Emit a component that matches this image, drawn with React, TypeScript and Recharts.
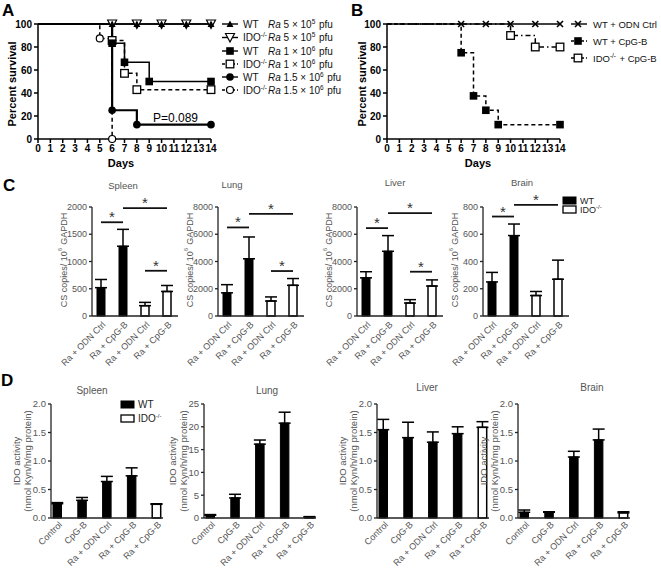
import React from "react";
import {
  LineChart,
  Line,
  XAxis,
  YAxis,
  BarChart,
  Bar,
  Cell,
  ErrorBar,
  ReferenceLine,
} from "recharts";

const FONT = "'Liberation Sans', Arial, Helvetica, sans-serif";
const GREY = "#555";

// ---------- A: survival, Ra dose ----------
const dayTicks = [0, 1, 2, 3, 4, 5, 6, 7, 8, 9, 10, 11, 12, 13, 14];
const survivalTicks = [0, 20, 40, 60, 80, 100];

const aWt5Days = [0, 6, 8, 10, 12, 14];
const aWt5Surv = [100, 100, 100, 100, 100, 100];
const aKo5Days = [0, 6, 8, 10, 12, 14];
const aKo5Surv = [100, 100, 100, 100, 100, 100];
const aWt1Days = [0, 6, 7, 9, 14];
const aWt1Surv = [100, 83.3, 66.7, 50, 50];
const aKo1Days = [0, 6, 7, 8, 14];
const aKo1Surv = [100, 85.7, 57.1, 42.9, 42.9];
const aWt15Days = [0, 6, 8, 14];
const aWt15Surv = [100, 25, 12.5, 12.5];
const aKo15Days = [0, 5, 6];
const aKo15Surv = [100, 87.5, 0];

// ---------- B: survival, CpG-B ----------
const bOdnDays = [0, 6, 8, 10, 12, 14];
const bOdnSurv = [100, 100, 100, 100, 100, 100];
const bWtCpgDays = [0, 6, 7, 8, 9, 14];
const bWtCpgSurv = [100, 75, 37.5, 25, 12.5, 12.5];
const bKoCpgDays = [0, 10, 12, 14];
const bKoCpgSurv = [100, 90, 80, 80];

// ---------- C: bacterial load ----------
const cCats = ["wtOdn", "wtCpg", "koOdn", "koCpg"];
const cLabels = ["Ra + ODN Ctrl", "Ra + CpG-B", "Ra + ODN Ctrl", "Ra + CpG-B"];
const cKnockout = [false, false, true, true];

const cSpleenMean = [520, 1280, 190, 450];
const cSpleenSem = [150, 310, 60, 110];
const cSpleenTicks = [0, 500, 1000, 1500, 2000];
const cSpleenSig: Sig[] = [[0, 1, 1720], [1, 3, 1980], [2, 3, 830]];

const cLungMean = [1700, 4200, 1100, 2250];
const cLungSem = [600, 1600, 300, 500];
const cLungTicks = [0, 2000, 4000, 6000, 8000];
const cLungSig: Sig[] = [[0, 1, 6500], [1, 3, 7500], [2, 3, 3300]];

const cLiverMean = [2800, 4750, 950, 2200];
const cLiverSem = [450, 1150, 250, 450];
const cLiverTicks = [0, 2000, 4000, 6000, 8000];
const cLiverSig: Sig[] = [[0, 1, 6450], [1, 3, 7550], [2, 3, 3250]];

const cBrainMean = [250, 590, 150, 270];
const cBrainSem = [70, 85, 30, 140];
const cBrainTicks = [0, 200, 400, 600, 800];
const cBrainSig: Sig[] = [[0, 1, 730], [1, 3, 815]];

// ---------- D: IDO activity ----------
const dCats = ["ctrl", "cpg", "raOdn", "raCpg", "koRaCpg"];
const dLabels = ["Control", "CpG-B", "Ra + ODN Ctrl", "Ra + CpG-B", "Ra + CpG-B"];
const dKnockout = [false, false, false, false, true];
const dTicks = [0, 0.5, 1, 1.5, 2];
const dLungTicks = [0, 5, 10, 15, 20, 25];

const dSpleenMean = [0.25, 0.31, 0.64, 0.74, 0.24];
const dSpleenSem = [0.02, 0.05, 0.09, 0.14, 0.01];
const dLungMean = [0.6, 4.4, 16.2, 20.8, 0.2];
const dLungSem = [0.15, 0.8, 0.9, 2.4, 0.1];
const dLiverMean = [1.55, 1.41, 1.33, 1.48, 1.59];
const dLiverSem = [0.18, 0.27, 0.18, 0.12, 0.1];
const dBrainMean = [0.1, 0.1, 1.07, 1.37, 0.09];
const dBrainSem = [0.04, 0.01, 0.1, 0.19, 0.02];

type Sig = [number, number, number];
type Shape = "triUp" | "triDown" | "square" | "squareOpen" | "circle" | "circleOpen" | "cross";

type KmSeries = {
  name: string;
  days: number[];
  surv: number[];
  shape: Shape;
  dash?: string;
  width?: number;
};

const toKm = (days: number[], surv: number[]) => days.map((d, i) => ({ day: d, surv: surv[i] }));

function Marker({ shape, x, y }: { shape: Shape; x: number; y: number }) {
  const h = 3.8;
  switch (shape) {
    case "triUp":
      return <polygon points={`${x},${y - 3.5} ${x + 3.5},${y + 3} ${x - 3.5},${y + 3}`} fill="#000" />;
    case "triDown":
      return (
        <polygon
          points={`${x - 4.5},${y - 4} ${x + 4.5},${y - 4} ${x},${y + 4.5}`}
          fill="#fff"
          stroke="#000"
          strokeWidth={1.2}
        />
      );
    case "square":
      return <rect x={x - h} y={y - h} width={h * 2} height={h * 2} fill="#000" />;
    case "squareOpen":
      return (
        <rect x={x - h} y={y - h} width={h * 2} height={h * 2} fill="#fff" stroke="#000" strokeWidth={1.3} />
      );
    case "circle":
      return <circle cx={x} cy={y} r={3.8} fill="#000" />;
    case "circleOpen":
      return <circle cx={x} cy={y} r={3.5} fill="#fff" stroke="#000" strokeWidth={1.2} />;
    case "cross":
    default:
      return (
        <g stroke="#000" strokeWidth={1.6}>
          <line x1={x - 3} y1={y - 3} x2={x + 3} y2={y + 3} />
          <line x1={x - 3} y1={y + 3} x2={x + 3} y2={y - 3} />
        </g>
      );
  }
}

const seriesA: KmSeries[] = [
  { name: "ko5", days: aKo5Days, surv: aKo5Surv, shape: "triDown" },
  { name: "wt5", days: aWt5Days, surv: aWt5Surv, shape: "triUp" },
  { name: "ko15", days: aKo15Days, surv: aKo15Surv, shape: "circleOpen", dash: "4 3" },
  { name: "wt15", days: aWt15Days, surv: aWt15Surv, shape: "circle", width: 2.2 },
  { name: "ko1", days: aKo1Days, surv: aKo1Surv, shape: "squareOpen", dash: "4 3" },
  { name: "wt1", days: aWt1Days, surv: aWt1Surv, shape: "square" },
];

const seriesB: KmSeries[] = [
  { name: "odn", days: bOdnDays, surv: bOdnSurv, shape: "cross" },
  { name: "wtCpg", days: bWtCpgDays, surv: bWtCpgSurv, shape: "square", dash: "4 3" },
  { name: "koCpg", days: bKoCpgDays, surv: bKoCpgSurv, shape: "squareOpen", dash: "5 3 1.5 3" },
];

const axisStroke = { stroke: "#000", strokeWidth: 1.5 };

function KmChart({
  left,
  width,
  plotLeft,
  plotRight,
  series,
}: {
  left: number;
  width: number;
  plotLeft: number;
  plotRight: number;
  series: KmSeries[];
}) {
  const tickStyle = { fontSize: 10, fontWeight: 700, fill: "#000", fontFamily: FONT };
  return (
    <div style={{ position: "absolute", left, top: 0 }}>
      <LineChart width={width} height={172} margin={{ top: 24, right: width - plotRight, bottom: 0, left: 0 }}>
        <XAxis
          type="number"
          dataKey="day"
          domain={[0, 14]}
          ticks={dayTicks}
          interval={0}
          height={33}
          tickSize={4}
          tickMargin={2}
          axisLine={axisStroke}
          tickLine={axisStroke}
          tick={tickStyle}
        />
        <YAxis
          type="number"
          dataKey="surv"
          domain={[0, 100]}
          ticks={survivalTicks}
          interval={0}
          width={plotLeft}
          tickSize={4}
          tickMargin={2}
          axisLine={axisStroke}
          tickLine={axisStroke}
          tick={tickStyle}
        />
        {series.map((s) => (
          <Line
            key={s.name}
            data={toKm(s.days, s.surv)}
            dataKey="surv"
            type="stepAfter"
            stroke="#000"
            strokeWidth={s.width ?? 1.5}
            strokeDasharray={s.dash}
            isAnimationActive={false}
            activeDot={false}
            dot={(p: any) =>
              p.index === 0 ? (
                <g key={`${s.name}-${p.index}`} />
              ) : (
                <g key={`${s.name}-${p.index}`}>
                  <Marker shape={s.shape} x={p.cx} y={p.cy} />
                </g>
              )
            }
          />
        ))}
      </LineChart>
    </div>
  );
}

function RotTick({ x, y, index, labels, fontSize, drop }: any) {
  const ax = x + 3;
  const ay = y + drop;
  return (
    <text
      x={ax}
      y={ay}
      dy="0.35em"
      textAnchor="end"
      transform={`rotate(-45 ${ax} ${ay})`}
      fontSize={fontSize}
      fill={GREY}
      fontFamily={FONT}
    >
      {labels[index]}
    </text>
  );
}

type BarPanelProps = {
  left: number;
  top: number;
  height: number;
  marginTop: number;
  xAxisHeight: number;
  yWidth: number;
  plotWidth: number;
  padL: number;
  padR: number;
  yMax: number;
  yTicks: number[];
  decimals: number;
  cats: string[];
  labels: string[];
  knockout: boolean[];
  means: number[];
  sems: number[];
  sigs?: Sig[];
  barSize: number;
  fontSize: number;
  labelFont: number;
  labelDrop: number;
};

function BarPanel(p: BarPanelProps) {
  const data = p.cats.map((c, i) => ({
    key: c,
    mean: p.means[i],
    err: [0, p.sems[i]],
    ko: p.knockout[i],
  }));
  const width = p.yWidth + p.plotWidth + 8;
  const line = { stroke: "#222", strokeWidth: 1.3 };
  return (
    <div style={{ position: "absolute", left: p.left, top: p.top }}>
      <BarChart
        width={width}
        height={p.height}
        data={data}
        margin={{ top: p.marginTop, right: 8, bottom: 0, left: 0 }}
      >
        <XAxis
          type="category"
          dataKey="key"
          interval={0}
          height={p.xAxisHeight}
          padding={{ left: p.padL, right: p.padR }}
          axisLine={line}
          tickLine={false}
          tickSize={0}
          tick={(t: any) => <RotTick {...t} labels={p.labels} fontSize={p.labelFont} drop={p.labelDrop} />}
        />
        <YAxis
          type="number"
          domain={[0, p.yMax]}
          ticks={p.yTicks}
          interval={0}
          width={p.yWidth}
          tickSize={3}
          tickMargin={2}
          axisLine={line}
          tickLine={line}
          tickFormatter={(v: number) => v.toFixed(p.decimals)}
          tick={{ fontSize: p.fontSize, fill: GREY, fontFamily: FONT }}
        />
        <Bar dataKey="mean" barSize={p.barSize} isAnimationActive={false}>
          {data.map((d) => (
            <Cell key={d.key} fill={d.ko ? "#fff" : "#000"} stroke="#000" strokeWidth={d.ko ? 1.5 : 1} />
          ))}
          <ErrorBar dataKey="err" width={6} strokeWidth={1.5} stroke="#000" direction="y" />
        </Bar>
        {(p.sigs ?? []).map(([a, b, h]) => (
          <ReferenceLine
            key={`${a}-${b}`}
            segment={[
              { x: p.cats[a], y: h },
              { x: p.cats[b], y: h },
            ]}
            stroke="#111"
            strokeWidth={1.8}
            ifOverflow="visible"
            label={{ value: "*", position: "top", fontSize: 15, fill: "#333", offset: 0 }}
          />
        ))}
      </BarChart>
    </div>
  );
}

const C_TOP = 175;
const D_TOP = 380;

function cPanel(axisX: number, yMax: number, ticks: number[], means: number[], sems: number[], sigs: Sig[]) {
  return (
    <BarPanel
      left={axisX - 40}
      top={C_TOP}
      height={190}
      marginTop={32}
      xAxisHeight={49}
      yWidth={40}
      plotWidth={86}
      padL={-2}
      padR={0}
      yMax={yMax}
      yTicks={ticks}
      decimals={0}
      cats={cCats}
      labels={cLabels}
      knockout={cKnockout}
      means={means}
      sems={sems}
      sigs={sigs}
      barSize={8}
      fontSize={9}
      labelFont={9}
      labelDrop={5}
    />
  );
}

function dPanel(axisX: number, yMax: number, ticks: number[], decimals: number, means: number[], sems: number[]) {
  return (
    <BarPanel
      left={axisX - 45}
      top={D_TOP}
      height={190}
      marginTop={24}
      xAxisHeight={52}
      yWidth={45}
      plotWidth={112}
      padL={-6}
      padR={-6}
      yMax={yMax}
      yTicks={ticks}
      decimals={decimals}
      cats={dCats}
      labels={dLabels}
      knockout={dKnockout}
      means={means}
      sems={sems}
      barSize={8.5}
      fontSize={9.5}
      labelFont={9}
      labelDrop={3}
    />
  );
}

function VText({ x, y, size, bold, fill, children }: any) {
  return (
    <text
      x={x}
      y={y}
      transform={`rotate(-90 ${x} ${y})`}
      textAnchor="middle"
      dominantBaseline="central"
      fontSize={size}
      fontWeight={bold ? 700 : 400}
      fill={fill ?? "#000"}
    >
      {children}
    </text>
  );
}

const Sup = ({ children, size = 6.5 }: any) => (
  <>
    <tspan dy={-4} fontSize={size}>
      {children}
    </tspan>
    <tspan dy={4}>{"\u200a"}</tspan>
  </>
);

function LegendA() {
  const rows: { shape: Shape; dash?: string; grp: string; dose: React.ReactNode }[] = [
    { shape: "triUp", grp: "WT", dose: <>5 × 10<Sup>5</Sup> pfu</> },
    { shape: "triDown", grp: "IDO", dose: <>5 × 10<Sup>5</Sup> pfu</> },
    { shape: "square", grp: "WT", dose: <>1 × 10<Sup>6</Sup> pfu</> },
    { shape: "squareOpen", dash: "3 2", grp: "IDO", dose: <>1 × 10<Sup>6</Sup> pfu</> },
    { shape: "circle", grp: "WT", dose: <>1.5 × 10<Sup>6</Sup> pfu</> },
    { shape: "circleOpen", dash: "3 2", grp: "IDO", dose: <>1.5 × 10<Sup>6</Sup> pfu</> },
  ];
  const ys = [24, 37.5, 51, 64, 77, 90];
  return (
    <g fontSize={10} fill="#111">
      {rows.map((r, i) => (
        <g key={i}>
          <line x1={222} x2={238} y1={ys[i]} y2={ys[i]} stroke="#000" strokeWidth={1.4} strokeDasharray={r.dash} />
          <Marker shape={r.shape} x={230} y={ys[i]} />
          <text x={243} y={ys[i] + 3.5}>
            {r.grp === "WT" ? "WT" : <>IDO<Sup>-/-</Sup></>}
          </text>
          <text x={268} y={ys[i] + 3.5}>
            <tspan fontStyle="italic">Ra</tspan> {r.dose}
          </text>
        </g>
      ))}
    </g>
  );
}

function LegendB() {
  const rows: { shape: Shape; dash?: string; label: React.ReactNode }[] = [
    { shape: "cross", label: "WT + ODN Ctrl" },
    { shape: "square", dash: "3 2", label: "WT + CpG-B" },
    { shape: "squareOpen", dash: "3 2", label: <>IDO<Sup>-/-</Sup> + CpG-B</> },
  ];
  const ys = [24, 41, 58];
  return (
    <g fontSize={9.5} fill="#111">
      {rows.map((r, i) => (
        <g key={i}>
          <line x1={571} x2={587} y1={ys[i]} y2={ys[i]} stroke="#000" strokeWidth={1.4} strokeDasharray={r.dash} />
          <Marker shape={r.shape} x={578} y={ys[i]} />
          <text x={593} y={ys[i] + 3.5}>
            {r.label}
          </text>
        </g>
      ))}
    </g>
  );
}

function BarLegend({ x, y, gap, size }: { x: number; y: number; gap: number; size: number }) {
  return (
    <g fontSize={size} fill="#222">
      <rect x={x} y={y} width={13} height={7} fill="#000" stroke="#000" />
      <text x={x + 17} y={y + 7}>
        WT
      </text>
      <rect x={x} y={y + gap} width={13} height={7} fill="#fff" stroke="#000" strokeWidth={1.3} />
      <text x={x + 17} y={y + gap + 7}>
        IDO<Sup size={6}>-/-</Sup>
      </text>
    </g>
  );
}

function Overlay() {
  const cLabel = (
    <>
      CS copies/ 10<Sup size={6}>6</Sup> GAPDH
    </>
  );
  const cAxes = [92, 218, 357, 483];
  const dAxes = [51, 204, 377, 518];
  return (
    <svg
      width={661}
      height={570}
      style={{ position: "absolute", left: 0, top: 0, pointerEvents: "none" }}
      fontFamily={FONT}
    >
      <g fontSize={17} fontWeight={700}>
        <text x={2} y={16}>A</text>
        <text x={351} y={16}>B</text>
        <text x={3} y={191}>C</text>
        <text x={1} y={386}>D</text>
      </g>

      <VText x={12} y={84} size={11} bold>
        Percent survival
      </VText>
      <VText x={362} y={84} size={11} bold>
        Percent survival
      </VText>
      <text x={121} y={167} textAnchor="middle" fontSize={11} fontWeight={700}>
        Days
      </text>
      <text x={478} y={167} textAnchor="middle" fontSize={11} fontWeight={700}>
        Days
      </text>
      <text x={153} y={121.5} fontSize={12}>
        P=0.089
      </text>
      <LegendA />
      <LegendB />

      <g fontSize={9.5} fill={GREY} textAnchor="middle">
        <text x={123} y={189}>Spleen</text>
        <text x={232} y={188}>Lung</text>
        <text x={395} y={186}>Liver</text>
        <text x={522} y={186}>Brain</text>
      </g>
      {cAxes.map((a) => (
        <VText key={a} x={a - 28} y={260} size={9} fill={GREY}>
          {cLabel}
        </VText>
      ))}
      <BarLegend x={563} y={197} gap={9} size={9} />

      <g fontSize={10} fill={GREY} textAnchor="middle">
        <text x={92} y={394}>Spleen</text>
        <text x={267} y={394}>Lung</text>
        <text x={427} y={391}>Liver</text>
        <text x={592} y={391}>Brain</text>
      </g>
      {dAxes.map((a, i) => (
        <g key={a}>
          <VText x={a - (i === 1 ? 32 : 35)} y={461} size={9.5} fill={GREY}>
            IDO activity
          </VText>
          <VText x={a - (i === 1 ? 21 : 24)} y={461} size={9.5} fill={GREY}>
            (nmol Kyn/h/mg protein)
          </VText>
        </g>
      ))}
      <BarLegend x={121} y={401} gap={14} size={10} />
    </svg>
  );
}

export default function App() {
  return (
    <div
      style={{
        position: "absolute",
        left: 0,
        top: 0,
        width: 661,
        height: 570,
        background: "#fff",
        fontFamily: FONT,
        overflow: "hidden",
      }}
    >
      <style>{`.recharts-surface{overflow:visible}.recharts-wrapper{overflow:visible}`}</style>
      <KmChart left={0} width={345} plotLeft={38} plotRight={211} series={seriesA} />
      <KmChart left={345} width={316} plotLeft={42} plotRight={215} series={seriesB} />

      {cPanel(92, 2000, cSpleenTicks, cSpleenMean, cSpleenSem, cSpleenSig)}
      {cPanel(218, 8000, cLungTicks, cLungMean, cLungSem, cLungSig)}
      {cPanel(357, 8000, cLiverTicks, cLiverMean, cLiverSem, cLiverSig)}
      {cPanel(483, 800, cBrainTicks, cBrainMean, cBrainSem, cBrainSig)}

      {dPanel(51, 2, dTicks, 1, dSpleenMean, dSpleenSem)}
      {dPanel(204, 25, dLungTicks, 0, dLungMean, dLungSem)}
      {dPanel(377, 2, dTicks, 1, dLiverMean, dLiverSem)}
      {dPanel(518, 2, dTicks, 1, dBrainMean, dBrainSem)}

      <Overlay />
    </div>
  );
}
